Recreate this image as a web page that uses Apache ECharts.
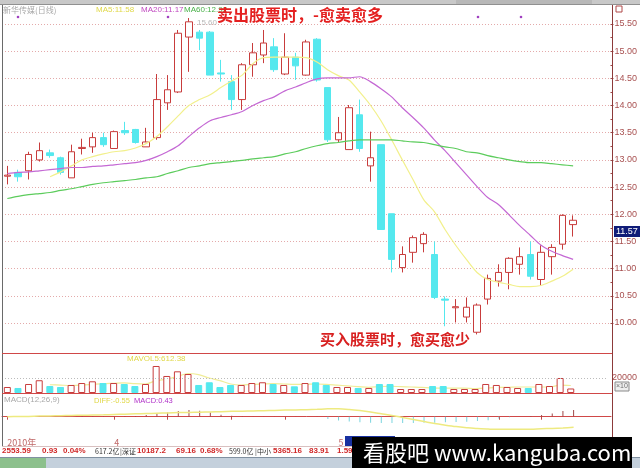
<!DOCTYPE html>
<html><head><meta charset="utf-8">
<script src="https://cdn.jsdelivr.net/npm/echarts@6.0.0/dist/echarts.min.js"></script>
<style>html,body{margin:0;padding:0;background:#fff}#c{width:640px;height:468px}</style>
</head><body><div id="c"></div>
<script>
// ---- data ----
const dateLabels = ['2010年','','','','','','','','','', '4','','','','','','','','','', '','','','','','','','','','', '','5','','','','','','','','', '','','','','','','','','','', '','','','','','',''];
const tickIdx = [0,10,15,21,26,31,41,46,50];
const opens  = [12.70,12.77,12.80,13.00,13.13,13.04,12.67,13.21,13.24,13.41,13.21,13.54,13.56,13.24,13.41,14.05,14.25,15.26,15.35,15.35,14.60,14.44,14.11,14.75,14.93,15.08,14.58,14.89,14.56,15.22,14.33,13.37,13.19,13.83,12.89,13.28,12.01,11.02,11.30,11.46,11.26,10.44,10.28,10.11,9.83,10.44,10.77,10.93,11.08,11.26,10.80,11.22,11.45,11.81];
const closes = [12.72,12.69,13.10,13.17,13.08,12.77,13.15,13.23,13.41,13.28,13.52,13.50,13.32,13.33,14.11,14.29,15.33,15.54,15.24,14.56,14.58,14.11,14.75,14.97,15.15,14.66,14.89,14.73,15.17,14.47,13.37,13.50,13.96,13.21,13.04,11.72,11.17,11.26,11.57,11.63,10.47,10.42,10.30,10.29,10.33,10.82,10.93,11.19,11.22,10.86,11.30,11.39,11.98,11.89];
const lows   = [12.55,12.60,12.64,12.97,13.04,12.73,12.67,13.10,13.13,13.24,13.21,13.46,13.30,13.24,13.37,13.92,14.23,14.62,15.02,14.56,14.44,13.92,13.92,14.53,14.78,14.62,14.56,14.47,14.55,14.44,13.33,13.33,13.19,13.15,12.60,11.72,10.93,10.93,11.11,11.30,10.44,9.94,10.01,10.01,9.79,10.34,10.67,10.62,10.89,10.80,10.69,10.89,11.35,11.59];
const highs  = [12.89,12.82,13.15,13.32,13.19,13.06,13.28,13.39,13.50,13.50,13.54,13.70,13.57,13.59,14.58,14.56,15.39,15.61,15.39,15.37,14.84,14.56,14.78,15.15,15.39,15.24,15.33,14.97,15.21,15.24,14.33,13.79,14.01,14.11,13.52,13.28,12.01,11.41,11.61,11.67,11.50,10.49,10.44,10.47,10.36,10.89,11.08,11.21,11.39,11.50,11.43,11.45,12.00,11.98];
const ma5  = [null,null,null,null,12.69,12.78,12.89,13.00,13.06,13.11,13.15,13.17,13.22,13.30,13.43,13.61,13.81,14.00,14.11,14.20,14.33,14.45,14.56,14.77,14.88,14.89,14.89,14.89,14.88,14.80,14.66,14.55,14.47,14.25,14.01,13.72,13.37,13.00,12.64,12.27,12.05,11.72,11.43,11.17,10.93,10.80,10.75,10.71,10.67,10.67,10.69,10.77,10.86,10.99];
const ma20 = [12.75,12.77,12.78,12.80,12.82,12.84,12.86,12.86,12.88,12.89,12.91,12.93,12.95,12.99,13.06,13.15,13.26,13.43,13.59,13.72,13.78,13.83,13.89,14.00,14.09,14.16,14.27,14.34,14.42,14.49,14.51,14.51,14.51,14.53,14.44,14.31,14.16,13.96,13.78,13.59,13.37,13.17,12.95,12.73,12.51,12.31,12.18,11.99,11.79,11.61,11.43,11.32,11.24,11.17];
const ma60 = [12.29,12.33,12.36,12.38,12.40,12.44,12.47,12.51,12.55,12.58,12.60,12.62,12.64,12.67,12.69,12.75,12.80,12.86,12.89,12.93,12.95,12.97,12.99,13.02,13.04,13.06,13.11,13.15,13.21,13.26,13.30,13.32,13.35,13.37,13.37,13.37,13.37,13.35,13.33,13.32,13.28,13.24,13.21,13.15,13.13,13.08,13.04,13.00,12.97,12.95,12.95,12.93,12.91,12.89];
const volumes = [8000,6700,12000,17000,9300,8000,10700,13300,15600,13300,13300,12000,9300,12000,36000,22700,28900,25300,10700,14300,8000,10700,10700,13300,14300,12000,10700,8900,13300,14300,10700,8000,8000,6700,6700,12000,12000,5300,5300,5300,9300,9300,5300,5300,5300,12000,10700,8000,6700,6700,12000,9300,20000,6000];
const volMa = [null,null,null,null,11000,10500,10000,10500,11500,12500,13000,13500,12500,12000,16500,18500,22000,26000,24500,20000,16500,12000,10500,11500,12000,12500,12000,11500,11500,12000,11500,10500,9500,8500,7500,8500,9000,8500,8000,7500,6500,6500,6500,6500,6000,6500,7500,7500,8000,8000,8000,8000,10500,10000];
const dif = [0.00,0.01,0.02,0.04,0.05,0.06,0.08,0.09,0.11,0.12,0.14,0.16,0.18,0.20,0.22,0.24,0.26,0.27,0.29,0.30,0.32,0.34,0.35,0.37,0.38,0.40,0.42,0.43,0.45,0.47,0.50,0.50,0.46,0.39,0.30,0.19,0.08,-0.05,-0.18,-0.31,-0.44,-0.54,-0.63,-0.70,-0.76,-0.79,-0.81,-0.81,-0.81,-0.80,-0.77,-0.75,-0.72,-0.68];
const macdHist = [0.02,0.02,0.02,0.02,0.02,0.02,0.02,0.05,0.04,0.03,0.03,0.04,0.05,0.11,0.21,0.26,0.36,0.43,0.38,0.26,0.13,0.06,0.03,0.02,0.02,0.02,0.02,0.02,0.02,0.02,-0.15,-0.25,-0.30,-0.35,-0.38,-0.40,-0.40,-0.40,-0.40,-0.38,-0.38,-0.36,-0.34,-0.32,-0.28,-0.22,-0.12,-0.04,0.00,0.04,0.11,0.21,0.36,0.43];
const priceTicks = {min:10, max:15.5, step:0.5};

// ---- chart ----
const RED='#c83c3c', CYAN='#55e8ee';
const chart = echarts.init(document.getElementById('c'), null, {renderer:'canvas'});
const candleData = opens.map((o,i)=>[o, closes[i], lows[i], highs[i]]);
const upStyle = {color:'#ffffff', borderColor:RED, borderWidth:1};
const dnStyle = {color:CYAN, borderColor:CYAN, borderWidth:1};
const volData = volumes.map((v,i)=>({value:v, itemStyle: closes[i]>=opens[i]?upStyle:dnStyle}));
const macdData = macdHist.map(v=>({value:v, itemStyle:{color: v>=0?'#a04848':'#7ad4de'}}));
const NUM='Liberation Sans', CJK='Noto Sans CJK SC';
function T(x,y,text,fill,font,align){
  align = align||'left';
  return {type:'text', z:50, style:{x:x,y:y,text:text,fill:fill,font:font,align:align,textAlign:align,verticalAlign:'middle',textVerticalAlign:'middle'}};
}
function L(x1,y1,x2,y2,c,w,z){return {type:'line', z:z||40, shape:{x1:x1,y1:y1,x2:x2,y2:y2}, style:{stroke:c, lineWidth:w||1}};}
function R(x,y,w,h,fill,stroke,z){return {type:'rect', z:z||40, shape:{x:x,y:y,width:w,height:h}, style:{fill:fill, stroke:stroke||null, lineWidth:1}};}
const hiddenX = (g)=>({type:'category', gridIndex:g, data:dateLabels, axisLine:{show:false}, axisTick:{show:false}, axisLabel:{show:false}, splitLine:{show:false}});

const option = {
  animation:false,
  backgroundColor:'#ffffff',
  grid:[
    {left:2, width:609, top:24, height:299},
    {left:2, width:609, top:353, height:40},
    {left:2, width:609, top:394, height:41}
  ],
  xAxis:[
    hiddenX(0), hiddenX(1),
    {type:'category', gridIndex:2, data:dateLabels,
     axisLine:{show:true, lineStyle:{color:'#d04848', width:1}},
     axisTick:{show:true, interval:(i)=>tickIdx.includes(i), alignWithLabel:true, length:3, lineStyle:{color:'#c04848'}},
     axisLabel:{interval:0, align:'left', margin:3, fontSize:9, color:'#c06868', fontFamily:CJK},
     splitLine:{show:false}}
  ],
  yAxis:[
    {type:'value', gridIndex:0, position:'right', min:priceTicks.min, max:priceTicks.max, interval:priceTicks.step,
     axisLine:{show:false},
     axisTick:{show:true, length:3, lineStyle:{color:'#a04848'}},
     minorTick:{show:true, splitNumber:2, length:2, lineStyle:{color:'#a04848'}},
     axisLabel:{fontSize:9, color:'#a85050', margin:4, fontFamily:NUM, formatter:v=>v.toFixed(2)},
     splitLine:{show:true, lineStyle:{color:'#e4aaaa', type:[1,2], width:1}}},
    {type:'value', gridIndex:1, position:'right', min:0, max:53333, interval:20000,
     axisLine:{show:false}, axisTick:{show:false}, splitLine:{show:false},
     axisLabel:{fontSize:9, color:'#a85050', margin:4, fontFamily:NUM, formatter:v=>v===20000?'20000':''}},
    {type:'value', gridIndex:2, min:-1.17, max:1.45, show:false, splitLine:{show:false}}
  ],
  series:[
    {type:'candlestick', name:'K', xAxisIndex:0, yAxisIndex:0, data:candleData, barWidth:7, clip:false,
     itemStyle:{color:'#ffffff', color0:CYAN, borderColor:RED, borderColor0:CYAN, borderWidth:1}},
    {type:'line', name:'MA5', xAxisIndex:0, yAxisIndex:0, data:ma5, symbol:'none', smooth:0.3, lineStyle:{color:'#f2f08c', width:1.2}, z:3},
    {type:'line', name:'MA20', xAxisIndex:0, yAxisIndex:0, data:ma20, symbol:'none', smooth:0.3, lineStyle:{color:'#c468d4', width:1.2}, z:3},
    {type:'line', name:'MA60', xAxisIndex:0, yAxisIndex:0, data:ma60, symbol:'none', smooth:0.3, lineStyle:{color:'#5ccc5c', width:1.2}, z:3},
    {type:'bar', name:'VOL', xAxisIndex:1, yAxisIndex:1, data:volData, barWidth:7,
     markLine:{silent:true, symbol:'none', label:{show:false}, lineStyle:{color:'#bbbbbb', type:[1,2], width:1}, data:[{yAxis:20000}]}},
    {type:'line', name:'MAVOL', xAxisIndex:1, yAxisIndex:1, data:volMa, symbol:'none', smooth:0.3, lineStyle:{color:'#f0ec98', width:1.2}, z:1},
    {type:'bar', name:'MACD', xAxisIndex:2, yAxisIndex:2, data:macdData, barWidth:1},
    {type:'line', name:'DIF', xAxisIndex:2, yAxisIndex:2, data:dif, symbol:'none', smooth:0.3, lineStyle:{color:'#eeea80', width:1.5}}
  ],
  graphic:[
    // window chrome
    R(0,0,640,4,'#c8c8c8',null,30),
    R(456,0,136,4,'#b8b8b8',null,31),
    L(0,4.5,640,4.5,'#909090',1,31),
    L(2.5,5,2.5,446,'#6a6a6a',1,40),
    L(612.5,5,612.5,446,'#8c3a3a',1,40),
    L(2,353.5,612,353.5,'#d04848',1,40),
    L(2,393.5,612,393.5,'#d04848',1,40),
    L(2,446.5,612,446.5,'#d8c0c0',1,40),
    R(616,6,6,6,null,'#b04848',41),
    // titles
    T(3,10,'新华传媒(日线)','#a8a8a8','8px '+CJK),
    T(96,10,'MA5:11.58','#e0d848','8px '+NUM),
    T(141,10,'MA20:11.17','#c048c0','8px '+NUM),
    T(184,10,'MA60:12.92','#48b048','8px '+NUM),
    T(217,15,'卖出股票时，-愈卖愈多','#e42020','bold 16px '+CJK),
    T(320,339,'买入股票时，愈买愈少','#d82020','bold 15px '+CJK),
    T(197,23,'15.60','#b8b8b8','8px '+NUM),
    {type:'circle', z:45, shape:{cx:18,cy:17,r:1.3}, style:{fill:'#a040c0'}},
    {type:'circle', z:45, shape:{cx:168,cy:17,r:1.3}, style:{fill:'#a040c0'}},
    {type:'circle', z:45, shape:{cx:478,cy:17,r:1.3}, style:{fill:'#a040c0'}},
    {type:'circle', z:45, shape:{cx:521,cy:17,r:1.3}, style:{fill:'#a040c0'}},
    // last price box
    R(614,226,26,11,'#101c78',null,45),
    T(616,231.5,'11.57','#ffffff','9px '+NUM),
    // volume / macd labels
    T(127,359,'MAVOL5:612.38','#e0d848','8px '+NUM),
    R(615,382,14,9,'#eeeeee','#8a8a8a',45),
    T(616,386.5,'×10','#707070','7px '+NUM),
    T(4,400,'MACD(12,26,9)','#a8a8a8','8px '+NUM),
    T(94,401,'DIFF:-0.55','#e0d848','7.5px '+NUM),
    T(134,401,'MACD:0.43','#b030c8','7.5px '+NUM),
    R(345,436,50,10,'#1830a0',null,41),
    // status bar
    T(2,451,'2553.59','#d02828','bold 8px '+NUM),
    T(42,451,'0.93','#d02828','bold 8px '+NUM),
    T(63,451,'0.04%','#d02828','bold 8px '+NUM),
    T(95,451,'617.2亿','#303030','7px '+CJK),
    T(120,451,'|深证','#303030','7px '+CJK),
    T(137,451,'10187.2','#d02828','bold 8px '+NUM),
    T(176,451,'69.16','#d02828','bold 8px '+NUM),
    T(200,451,'0.68%','#d02828','bold 8px '+NUM),
    T(229,451,'599.0亿','#303030','7px '+CJK),
    T(255,451,'|中小','#303030','7px '+CJK),
    T(273,451,'5365.16','#d02828','bold 8px '+NUM),
    T(309,451,'83.91','#d02828','bold 8px '+NUM),
    T(337,451,'1.59%','#d02828','bold 8px '+NUM),
    // taskbar
    R(0,457,640,11,'#c4d0dc',null,42),
    R(0,457,46,11,'#8cc08c',null,43),
    L(0,457.5,640,457.5,'#8090a0',1,43),
    // watermark
    R(352,437,280,31,'#000000',null,90),
    {type:'text', z:95, style:{x:363,y:453,text:'看股吧 www.kanguba.com',fill:'#ffffff',font:'22px '+CJK,align:'left',textAlign:'left',verticalAlign:'middle',textVerticalAlign:'middle'}}
  ]
};
chart.setOption(option);
</script>
</body></html>
